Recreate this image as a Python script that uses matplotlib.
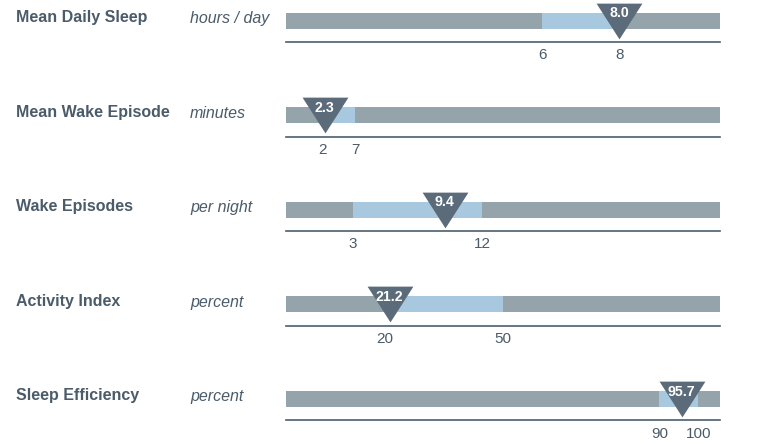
import matplotlib
matplotlib.use("Agg")
import matplotlib.pyplot as plt
from matplotlib.path import Path
import numpy as np

plt.rcParams['font.family'] = ['Liberation Sans', 'DejaVu Sans']

# ---- data ----
labels = ["Mean Daily Sleep", "Mean Wake Episode", "Wake Episodes", "Activity Index", "Sleep Efficiency"]
units = ["hours / day", "minutes", "per night", "percent", "percent"]
values = [8.0, 2.3, 9.4, 21.2, 95.7]
range_lo = [6, 2, 3, 20, 90]
range_hi = [8, 7, 12, 50, 100]
axis_min = [-0.66, -3.7, -1.68, -5.3, -5.3]
axis_max = [10.62, 63.6, 28.6, 105.5, 105.5]

# ---- style ----
W, H = 769, 444
TRACK = "#95a3ab"
BAND = "#a7c8de"
MARK = "#5b6b79"
TEXT = "#4a5b69"
LINE = "#4a5e70"

fig = plt.figure(figsize=(W / 100, H / 100), dpi=100)

tri = Path([(-1.0, 0.78), (1.0, 0.78), (0.0, -0.78), (-1.0, 0.78)],
           [Path.MOVETO, Path.LINETO, Path.LINETO, Path.CLOSEPOLY])

x0, x1 = 286, 720
row_centers = [20.5 + 94.6 * i for i in range(len(labels))]

for i, lab in enumerate(labels):
    cy = row_centers[i]
    ax = fig.add_axes([x0 / W, (H - (cy + 48)) / H, (x1 - x0) / W, 95 / H])
    ax.set_xlim(axis_min[i], axis_max[i])
    ax.set_ylim(-48, 47)
    ax.patch.set_alpha(0)
    for s in ["top", "left", "right"]:
        ax.spines[s].set_visible(False)
    ax.spines["bottom"].set_position(("data", -21.5))
    ax.spines["bottom"].set_color(LINE)
    ax.spines["bottom"].set_linewidth(1.2)
    ax.set_yticks([])
    ax.set_xticks([range_lo[i], range_hi[i]])
    ax.set_xticklabels([f"{range_lo[i]:g}", f"{range_hi[i]:g}"])
    ax.tick_params(axis="x", length=0, pad=4.5, labelsize=11, labelcolor=TEXT)

    ax.axhspan(-8, 8, color=TRACK, lw=0, zorder=1)
    ax.barh(0, range_hi[i] - range_lo[i], left=range_lo[i], height=16,
            color=BAND, lw=0, zorder=2)
    ax.plot([values[i]], [0], marker=tri, markersize=33, color=MARK,
            markeredgewidth=0, clip_on=False, zorder=3)
    ax.annotate(f"{values[i]:.1f}", (values[i], 0), xytext=(0, 5.2),
                textcoords="offset points", ha="center", va="center",
                color="white", fontsize=10.2, fontweight="bold", zorder=4,
                annotation_clip=False)

    fig.text(16 / W, (H - (cy - 3)) / H, lab, ha="left", va="center",
             fontsize=11.5, fontweight="bold", color=TEXT)
    fig.text(190 / W, (H - (cy - 2)) / H, units[i], ha="left", va="center",
             fontsize=11.5, style="italic", color=TEXT)

fig.savefig("out.png", dpi=100)
